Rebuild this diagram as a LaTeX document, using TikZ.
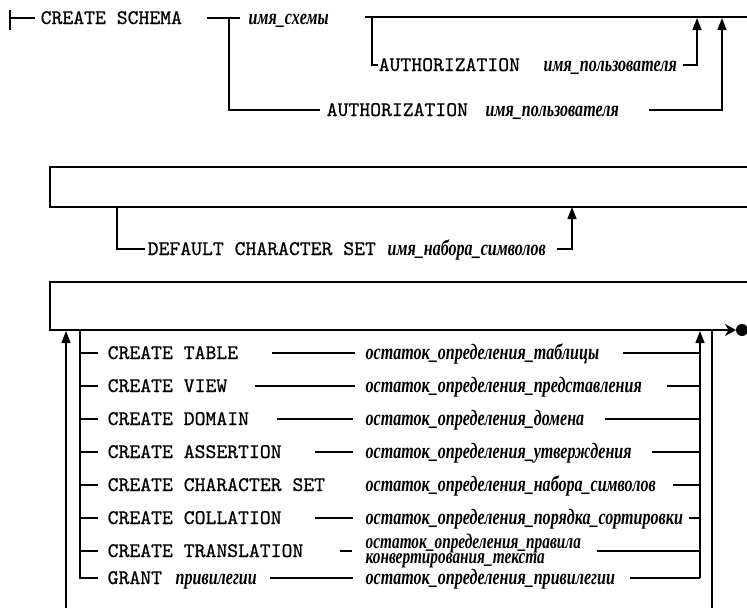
\documentclass[tikz,border=0pt]{standalone}
\usepackage{fontspec}
\setmonofont[FakeBold=0.7]{lmmono10-regular.otf}
\newfontfamily\rusit[FakeStretch=0.73]{Liberation Serif}
\usetikzlibrary{arrows.meta}
\begin{document}
\begin{tikzpicture}[x=1pt,y=-1pt,line width=1.4pt,
  kw/.style={font=\ttfamily\fontsize{20.7}{20.7}\selectfont,inner sep=0pt,anchor=base west},
  arg/.style={font=\rusit\bfseries\itshape\fontsize{22}{22}\selectfont,inner sep=0pt,anchor=base west},
  uparrow/.style={-{Triangle[width=9pt,length=12pt]}}]
\useasboundingbox (0,0) rectangle (747,608);

% ---- CREATE SCHEMA with optional AUTHORIZATION
\draw (10,10) -- (10,30);
\draw (10,18) -- (35,18);
\node[kw] (cs) at (40,24) {CREATE SCHEMA};
\draw (207,18) -- (240,18);
\node[arg] (sn) at (248,24) {имя\_схемы};
\draw (365,17) -- (747,17);
% inner branch
\draw (372,17) -- (372,65) -- (378,65);
\node[kw] (au1) at (378,71) {AUTHORIZATION};
\node[arg] (us1) at (543,71) {имя\_пользователя};
\draw[uparrow] ([xshift=6pt]us1.east |- 0,65) -- (697,65) -- (697,18);
% outer branch
\draw (229,18) -- (229,110) -- (320,110);
\node[kw] (au2) at (326,116) {AUTHORIZATION};
\node[arg] (us2) at (485,116) {имя\_пользователя};
\draw[uparrow] ([xshift=30pt]us2.east |- 0,110) -- (722,110) -- (722,18);

% ---- DEFAULT CHARACTER SET
\draw (747,167) -- (50,167) -- (50,207) -- (747,207);
\draw (117,207) -- (117,249) -- (145,249);
\node[kw] (dcs) at (147,255) {DEFAULT CHARACTER SET};
\node[arg] (csn) at (387,255) {имя\_набора\_символов};
\draw[uparrow] ([xshift=10pt]csn.east |- 0,249) -- (572,249) -- (572,207);

% ---- schema elements
\draw (747,282) -- (50,282) -- (50,330) -- (712,330);
\draw[-{Stealth[length=11pt,width=12pt]}] (712,330) -- (736,330);
\fill (742,330) circle (6);
\draw[uparrow] (66,608) -- (66,331);
\draw (80,330) -- (80,578) -- (98,578);
\draw[uparrow] (700,578) -- (700,331);
\draw (712,330) -- (712,608);

% CREATE TABLE
\draw (80,353) -- (98,353);
\node[kw] (k1) at (107,359) {CREATE TABLE};
\node[arg] (a1) at (365,359) {остаток\_определения\_таблицы};
\draw (272,353) -- (355,353);
\draw ([xshift=23pt]a1.east |- 0,353) -- (700,353);
% CREATE VIEW
\draw (80,386) -- (98,386);
\node[kw] (k2) at (107,392) {CREATE VIEW};
\node[arg] (a2) at (365,392) {остаток\_определения\_представления};
\draw (255,386) -- (355,386);
\draw ([xshift=25pt]a2.east |- 0,386) -- (700,386);
% CREATE DOMAIN
\draw (80,419) -- (98,419);
\node[kw] (k3) at (107,425) {CREATE DOMAIN};
\node[arg] (a3) at (365,425) {остаток\_определения\_домена};
\draw (277,419) -- (353,419);
\draw ([xshift=20pt]a3.east |- 0,419) -- (700,419);
% CREATE ASSERTION
\draw (80,452) -- (98,452);
\node[kw] (k4) at (107,458) {CREATE ASSERTION};
\node[arg] (a4) at (365,458) {остаток\_определения\_утверждения};
\draw (315,452) -- (353,452);
\draw ([xshift=20pt]a4.east |- 0,452) -- (700,452);
% CREATE CHARACTER SET
\draw (80,485) -- (98,485);
\node[kw] (k5) at (107,491) {CREATE CHARACTER SET};
\node[arg] (a5) at (365,491) {остаток\_определения\_набора\_символов};
\draw ([xshift=17pt]a5.east |- 0,485) -- (700,485);
% CREATE COLLATION
\draw (80,518) -- (98,518);
\node[kw] (k6) at (107,524) {CREATE COLLATION};
\node[arg] (a6) at (365,524) {остаток\_определения\_порядка\_сортировки};
\draw (315,518) -- (353,518);
\draw ([xshift=5pt]a6.east |- 0,518) -- (700,518);
% CREATE TRANSLATION
\draw (80,551) -- (98,551);
\node[kw] (k7) at (107,557) {CREATE TRANSLATION};
\node[arg,anchor=west,align=left,font=\rusit\bfseries\itshape\fontsize{21}{15}\selectfont] (a7) at (365,551)
  {остаток\_определения\_правила\\конвертирования\_текста};
\draw (340,551) -- (352,551);
\draw ([xshift=15pt]a7.east |- 0,551) -- (700,551);
% GRANT
\node[kw] (k8) at (107,584) {GRANT};
\node[arg] (p8) at (175,584) {привилегии};
\node[arg] (a8) at (365,584) {остаток\_определения\_привилегии};
\draw (270,578) -- (353,578);
\draw ([xshift=14pt]a8.east |- 0,578) -- (700,578);
\end{tikzpicture}
\end{document}
